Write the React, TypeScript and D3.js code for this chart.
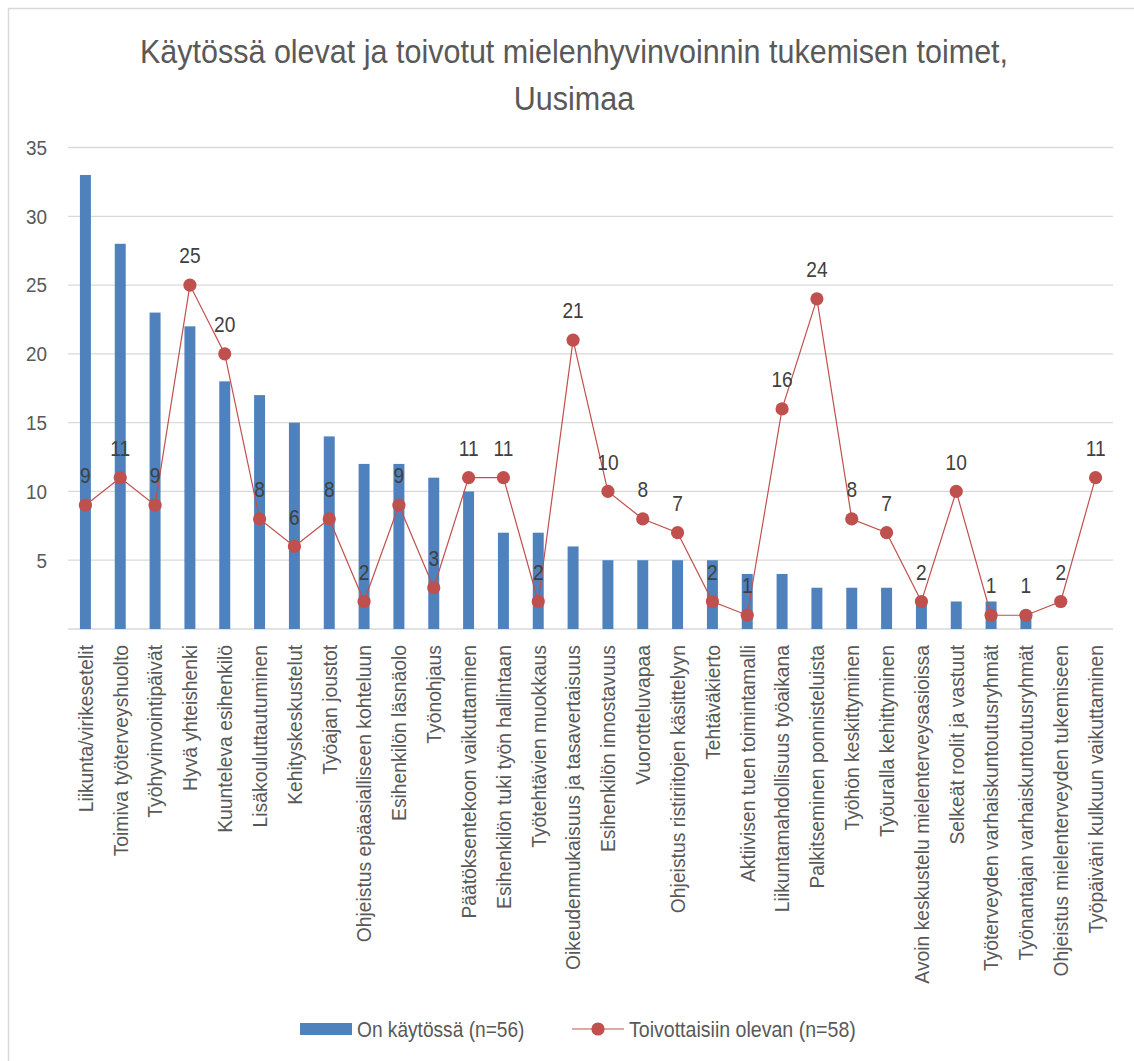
import React from "react";
import * as d3 from "d3";

const categories: string[] = [
  "Liikunta/virikesetelit",
  "Toimiva työterveyshuolto",
  "Työhyvinvointipäivät",
  "Hyvä yhteishenki",
  "Kuunteleva esihenkilö",
  "Lisäkouluttautuminen",
  "Kehityskeskustelut",
  "Työajan joustot",
  "Ohjeistus epäasialliseen kohteluun",
  "Esihenkilön läsnäolo",
  "Työnohjaus",
  "Päätöksentekoon vaikuttaminen",
  "Esihenkilön tuki työn hallintaan",
  "Työtehtävien muokkaus",
  "Oikeudenmukaisuus ja tasavertaisuus",
  "Esihenkilön innostavuus",
  "Vuorotteluvapaa",
  "Ohjeistus ristiriitojen käsittelyyn",
  "Tehtäväkierto",
  "Aktiivisen tuen toimintamalli",
  "Liikuntamahdollisuus työaikana",
  "Palkitseminen ponnisteluista",
  "Työhön keskittyminen",
  "Työuralla kehittyminen",
  "Avoin keskustelu mielenterveysasioissa",
  "Selkeät roolit ja vastuut",
  "Työterveyden varhaiskuntoutusryhmät",
  "Työnantajan varhaiskuntoutusryhmät",
  "Ohjeistus mielenterveyden tukemiseen",
  "Työpäiväni kulkuun vaikuttaminen",
];

const inUse: number[] = [33, 28, 23, 22, 18, 17, 15, 14, 12, 12, 11, 10, 7, 7, 6, 5, 5, 5, 5, 4, 4, 3, 3, 3, 2, 2, 2, 1, 0, 0];
const wished: number[] = [9, 11, 9, 25, 20, 8, 6, 8, 2, 9, 3, 11, 11, 2, 21, 10, 8, 7, 2, 1, 16, 24, 8, 7, 2, 10, 1, 1, 2, 11];

const yTicks: number[] = [5, 10, 15, 20, 25, 30, 35];
const gridTicks: number[] = [0, 5, 10, 15, 20, 25, 30, 35];

const titleLines: string[] = ["Käytössä olevat ja toivotut mielenhyvinvoinnin tukemisen toimet,", "Uusimaa"];
const seriesNames: string[] = ["On käytössä (n=56)", "Toivottaisiin olevan (n=58)"];

const W = 1134;
const H = 1061;
const FONT = "'Liberation Sans', Arial, sans-serif";
const BLUE = "#4f81bd";
const RED = "#c0504d";
const TEXT = "#595959";
const GRID = "#d9d9d9";

export default function App() {
  const left = 68;
  const right = 1113;
  const top = 147.5;
  const bottom = 629;

  const x = d3
    .scaleBand<string>()
    .domain(categories)
    .range([left, right])
    .paddingInner(0.685)
    .paddingOuter(0.3425);
  const y = d3.scaleLinear().domain([0, 35]).range([bottom, top]);

  const cx = (c: string) => (x(c) as number) + x.bandwidth() / 2;

  const lineGen = d3
    .line<number>()
    .x((_, i) => cx(categories[i]))
    .y((d) => y(d));

  const legY = 1029;

  return (
    <svg
      width={W}
      height={H}
      style={{ position: "absolute", left: 0, top: 0, background: "#fff" }}
      fontFamily={FONT}
    >
      <rect x={0} y={0} width={W} height={H} fill="#fff" />
      <rect x={8.5} y={8.5} width={1140} height={1080} fill="none" stroke={GRID} strokeWidth={1.5} />

      {/* title */}
      {titleLines.map((t, i) => (
        <text
          key={t}
          transform={`translate(574,${62.5 + i * 47}) scale(0.925,1)`}
          textAnchor="middle"
          fontSize={33}
          fill={TEXT}
        >
          {t}
        </text>
      ))}

      {/* gridlines */}
      {gridTicks.map((t) => (
        <line key={t} x1={left} x2={right} y1={y(t)} y2={y(t)} stroke={GRID} strokeWidth={1.3} />
      ))}

      {/* y tick labels */}
      {yTicks.map((t) => (
        <text
          key={t}
          transform={`translate(47,${y(t)}) scale(0.9,1)`}
          textAnchor="end"
          dominantBaseline="central"
          fontSize={21}
          fill={TEXT}
        >
          {t}
        </text>
      ))}

      {/* bars */}
      {categories.map((c, i) => (
        <rect
          key={c}
          x={x(c)}
          y={y(inUse[i])}
          width={x.bandwidth()}
          height={bottom - y(inUse[i])}
          fill={BLUE}
        />
      ))}

      {/* line */}
      <path d={lineGen(wished) || ""} fill="none" stroke={RED} strokeWidth={1.2} />
      {categories.map((c, i) => (
        <circle key={c} cx={cx(c)} cy={y(wished[i])} r={6.6} fill={RED} />
      ))}

      {/* data labels */}
      {categories.map((c, i) => (
        <text
          key={c}
          transform={`translate(${cx(c)},${y(wished[i]) - 30}) scale(0.85,1)`}
          textAnchor="middle"
          dominantBaseline="central"
          fontSize={22.5}
          fill="#404040"
        >
          {wished[i]}
        </text>
      ))}

      {/* x labels */}
      {categories.map((c) => (
        <text
          key={c}
          transform={`translate(${cx(c)},645) rotate(-90) scale(0.92,1)`}
          textAnchor="end"
          dominantBaseline="central"
          fontSize={21}
          fill={TEXT}
        >
          {c}
        </text>
      ))}

      {/* legend */}
      <rect x={300} y={legY - 6} width={52} height={12} fill={BLUE} />
      <text
        transform={`translate(357,${legY}) scale(0.87,1)`}
        dominantBaseline="central"
        fontSize={22}
        fill={TEXT}
      >
        {seriesNames[0]}
      </text>
      <line x1={572} x2={624} y1={legY} y2={legY} stroke={RED} strokeWidth={1.2} />
      <circle cx={598} cy={legY} r={6.6} fill={RED} />
      <text
        transform={`translate(629,${legY}) scale(0.89,1)`}
        dominantBaseline="central"
        fontSize={22}
        fill={TEXT}
      >
        {seriesNames[1]}
      </text>
    </svg>
  );
}
